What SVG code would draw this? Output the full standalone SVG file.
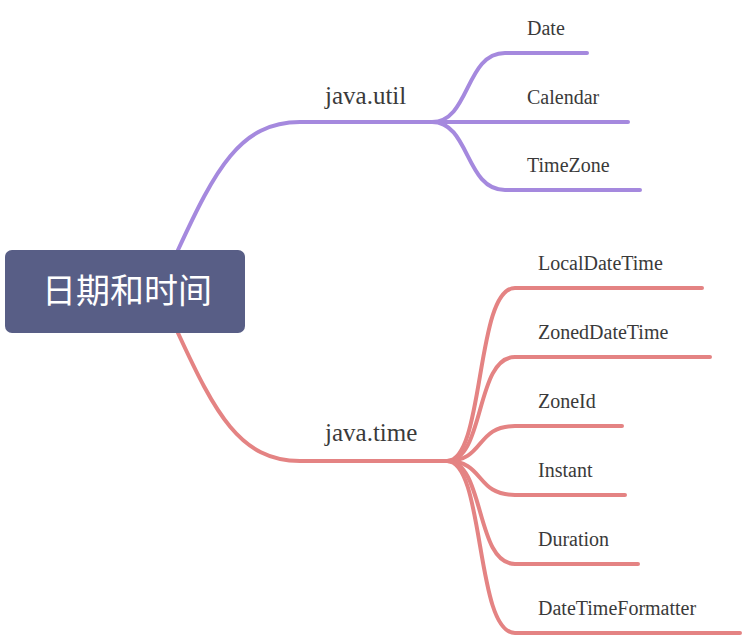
<svg xmlns="http://www.w3.org/2000/svg" width="746" height="638" viewBox="0 0 746 638">
<style>
.p{fill:none;stroke:#a589de;stroke-width:4;stroke-linecap:round}
.r{fill:none;stroke:#e48383;stroke-width:4;stroke-linecap:round}
.t{font-family:"Liberation Serif",serif;fill:#3a3a3a}
.m{font-size:25px}
.s{font-size:20px}
</style>
<g id="connectors">
<path class="p" d="M178,250 C215,170 240,122 300,122 L432,122"/>
<path class="p" d="M432,122 C470,122 465,53 505,53 L587,53"/>
<path class="p" d="M432,122 L628,122"/>
<path class="p" d="M432,122 C470,122 465,190 505,190 L640,190"/>
<path class="r" d="M178,333 C215,413 240,461 300,461 L447,461"/>
<path class="r" d="M447,461 C485,461 475,288 515,288 L702,288"/>
<path class="r" d="M447,461 C485,461 475,357 515,357 L710,357"/>
<path class="r" d="M447,461 C485,461 475,426 515,426 L622,426"/>
<path class="r" d="M447,461 C485,461 475,495 515,495 L625,495"/>
<path class="r" d="M447,461 C485,461 475,564 515,564 L638,564"/>
<path class="r" d="M447,461 C485,461 475,633 515,633 L740,633"/>
</g>
<g id="root"><rect x="5" y="250" width="240" height="83" rx="7" fill="#585e86"/><text x="127" y="303" font-size="34" fill="#fff" text-anchor="middle" font-family="'Noto Sans CJK SC',sans-serif">日期和时间</text></g>
<g id="java-util"><text class="t m" x="325" y="104">java.util</text></g>
<g id="date"><text class="t s" x="527" y="35">Date</text></g>
<g id="calendar"><text class="t s" x="527" y="104">Calendar</text></g>
<g id="timezone"><text class="t s" x="527" y="172">TimeZone</text></g>
<g id="java-time"><text class="t m" x="325" y="441">java.time</text></g>
<g id="ldt"><text class="t s" x="538" y="270">LocalDateTime</text></g>
<g id="zdt"><text class="t s" x="538" y="339">ZonedDateTime</text></g>
<g id="zid"><text class="t s" x="538" y="408">ZoneId</text></g>
<g id="instant"><text class="t s" x="538" y="477">Instant</text></g>
<g id="duration"><text class="t s" x="538" y="546">Duration</text></g>
<g id="dtf"><text class="t s" x="538" y="615">DateTimeFormatter</text></g>
</svg>
